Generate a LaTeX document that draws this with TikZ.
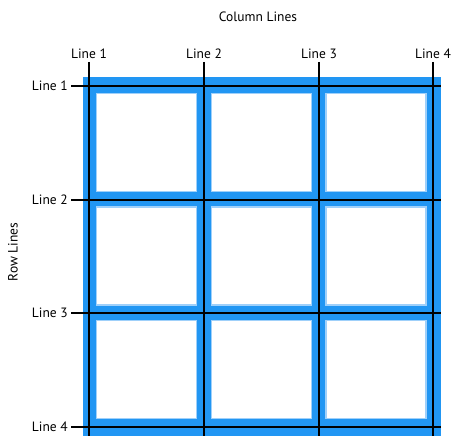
\documentclass[tikz,border=0pt]{standalone}
\usepackage{fontspec}
\setmainfont{PT Sans}
\usetikzlibrary{positioning}
\definecolor{gridblue}{HTML}{2196F3}
\definecolor{cellrim}{HTML}{9FD0FA}

\begin{document}
\begin{tikzpicture}[
  x=1pt, y=-1pt, font=\fontsize{13.5}{15}\selectfont,
  area/.style={fill=gridblue,draw=none},
  cellbox/.style={rectangle,fill=white,draw=cellrim,line width=1.2pt,minimum width=100pt,minimum height=98pt,inner sep=0pt},
  gline/.style={draw=black,line width=1.5pt},
  lbl/.style={inner sep=1pt}]
\useasboundingbox (0,0) rectangle (452,436);
\node[area,rectangle,minimum width=358pt,minimum height=359pt,inner sep=0pt,anchor=north west] (grid) at (83,77) {};
\foreach \r/\y in {1/142.5, 2/256, 3/369.5}
  \foreach \c/\x in {1/146.5, 2/261.5, 3/376}
    \node[cellbox] (cell-\r-\c) at (\x,\y) {};
\foreach \i/\x in {1/89, 2/204, 3/319, 4/433} {
  \coordinate (ctop-\i) at (\x,62);
  \coordinate (cbot-\i) at (\x,436);
  \node[lbl, above=2pt of ctop-\i] (col-\i) {Line \i};
  \draw[gline] (ctop-\i) -- (cbot-\i);
}
\foreach \i/\y in {1/86, 2/200, 3/313, 4/427} {
  \coordinate (rleft-\i) at (71,\y);
  \coordinate (rright-\i) at (441,\y);
  \node[lbl, left=2pt of rleft-\i] (row-\i) {Line \i};
  \draw[gline] (rleft-\i) -- (rright-\i);
}
\node (coltitle) at (258,17) {Column Lines};
\node[rotate=90] (rowtitle) at (13,252) {Row Lines};
\end{tikzpicture}
\end{document}
